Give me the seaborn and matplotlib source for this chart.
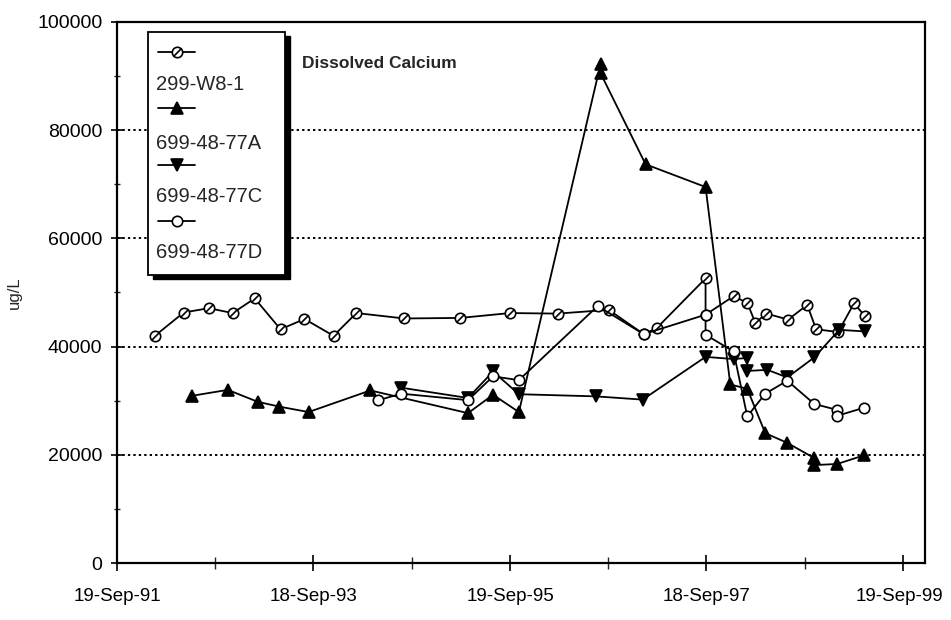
import numpy as np
import pandas as pd
import matplotlib
matplotlib.use("Agg")
import matplotlib.pyplot as plt
import matplotlib.dates as mdates
import matplotlib.transforms as mtransforms
from matplotlib.path import Path
from matplotlib.patches import Rectangle
from matplotlib.lines import Line2D
import seaborn as sns

# ---------------- data ----------------
w8_dates = ["1992-02-07", "1992-05-24", "1992-08-25", "1992-11-22", "1993-02-12",
            "1993-05-19", "1993-08-16", "1993-12-02", "1994-02-25", "1994-08-22",
            "1995-03-18", "1995-09-19", "1996-03-15", "1996-09-20", "1997-01-28",
            "1997-03-17", "1997-09-15", "1997-09-15", "1997-12-28", "1998-02-17",
            "1998-03-19", "1998-04-29", "1998-07-19", "1998-09-28", "1998-10-31",
            "1999-01-21", "1999-03-21", "1999-05-01"]
w8_vals = [42000, 46300, 47100, 46200, 48900, 43200, 45100, 42000, 46200, 45200,
           45300, 46200, 46100, 46800, 42300, 43400, 52600, 45900, 49300, 48100,
           44400, 46100, 45000, 47700, 43200, 42700, 48000, 45600]

a_dates = ["1992-06-23", "1992-11-04", "1993-02-23", "1993-05-15", "1993-08-31",
           "1994-04-18", "1995-04-16", "1995-07-18", "1995-10-22", "1996-08-21",
           "1996-08-21", "1997-02-04", "1997-09-15", "1997-12-16", "1998-02-17",
           "1998-04-25", "1998-07-16", "1998-10-24", "1998-10-24", "1999-01-17",
           "1999-04-27"]
a_vals = [30900, 32000, 29800, 28900, 27900, 31900, 27700, 31100, 27900, 92300,
          90500, 73700, 69500, 33000, 32200, 24000, 22200, 19400, 18100, 18300,
          19900]

c_dates = ["1994-08-11", "1995-04-16", "1995-07-18", "1995-10-22", "1996-08-03",
           "1997-01-24", "1997-09-15", "1997-12-28", "1998-02-17", "1998-02-17",
           "1998-05-03", "1998-07-16", "1998-10-24", "1999-01-25", "1999-05-01"]
c_vals = [32400, 30500, 35400, 31200, 30800, 30200, 38100, 37700, 37900, 35500,
          35700, 34300, 38000, 43100, 42800]

d_dates = ["1994-05-18", "1994-08-11", "1995-04-16", "1995-07-18", "1995-10-22",
           "1996-08-10", "1997-01-28", "1997-09-15", "1997-09-15", "1997-12-28",
           "1998-02-17", "1998-04-25", "1998-07-16", "1998-10-24", "1999-01-17",
           "1999-01-17", "1999-04-27"]
d_vals = [30100, 31300, 30100, 34500, 33800, 47500, 42300, 45900, 42200, 39100,
          27100, 31300, 33700, 29400, 28300, 27200, 28700]

series_names = ["299-W8-1", "699-48-77A", "699-48-77C", "699-48-77D"]
x_tick_labels = ["19-Sep-91", "18-Sep-93", "19-Sep-95", "18-Sep-97", "19-Sep-99"]
y_ticks = [0, 20000, 40000, 60000, 80000, 100000]
title_text = "Dissolved Calcium"
y_label = "ug/L"

# ---------------- style ----------------
sns.set_style("white")
plt.rcParams["font.family"] = ["Liberation Sans", "DejaVu Sans"]

W, H = 951, 620
fig = plt.figure(figsize=(W / 100, H / 100), dpi=100)
L, R, T, B = 117, 925, 22, 563
ax = fig.add_axes([L / W, 1 - B / H, (R - L) / W, (B - T) / H])

# hatched circle marker (circle with a slash)
circ = Path.unit_circle()
slash = Path([(-0.72, -0.72), (0.72, 0.72)], [Path.MOVETO, Path.LINETO])
hatched = Path.make_compound_path(circ, slash)

styles = {
    "299-W8-1": dict(marker=hatched, markersize=7.5, markerfacecolor="white"),
    "699-48-77A": dict(marker="^", markersize=9, markerfacecolor="black"),
    "699-48-77C": dict(marker="v", markersize=9, markerfacecolor="black"),
    "699-48-77D": dict(marker="o", markersize=7.5, markerfacecolor="white"),
}

all_dates = [w8_dates, a_dates, c_dates, d_dates]
all_vals = [w8_vals, a_vals, c_vals, d_vals]

for name, dts, vals in zip(series_names, all_dates, all_vals):
    df = pd.DataFrame({"date": pd.to_datetime(dts), "value": vals})
    st = styles[name]
    sns.lineplot(data=df, x="date", y="value", estimator=None, sort=False,
                 color="black", lw=1.3, marker=st["marker"],
                 markersize=st["markersize"],
                 markerfacecolor=st["markerfacecolor"],
                 markeredgecolor="black", markeredgewidth=1.2,
                 ax=ax, legend=False, zorder=3)

# ---------------- axes ----------------
major_num = mdates.date2num(pd.to_datetime(x_tick_labels, format="%d-%b-%y"))
minor_num = (major_num[:-1] + major_num[1:]) / 2
span = major_num[-1] - major_num[0]
ax.set_xlim(major_num[0], major_num[-1] + span * 22 / 786)
ax.set_xticks(major_num)
ax.set_xticklabels(x_tick_labels)
ax.set_xticks(minor_num, minor=True)

ax.set_ylim(0, 100000)
ax.set_yticks(y_ticks)
ax.set_yticklabels([str(v) for v in y_ticks])
ax.set_yticks([v + 10000 for v in y_ticks[:-1]], minor=True)

ax.set_xlabel("")
ax.set_ylabel("")

ax.yaxis.grid(True, which="major", linestyle=(0, (1.2, 1.6)), color="black", lw=1.4)
ax.xaxis.grid(False)
ax.set_axisbelow(True)

for s in ax.spines.values():
    s.set_visible(True)
    s.set_color("black")
    s.set_linewidth(1.6)

ax.tick_params(axis="x", which="major", direction="inout", length=12, width=1.2,
               pad=12, labelsize=13.5, colors="black")
ax.tick_params(axis="x", which="minor", direction="inout", length=8, width=1.0)
ax.tick_params(axis="y", which="major", direction="inout", length=9, width=1.2,
               pad=6, labelsize=14, colors="black")
ax.tick_params(axis="y", which="minor", direction="inout", length=5, width=1.0)
ax.tick_params(bottom=True, left=True, top=False, right=False)
ax.tick_params(which="minor", bottom=True, left=True, top=False, right=False)

# nudge the last x label slightly left so it stays inside the canvas
last_lbl = ax.get_xticklabels()[-1]
last_lbl.set_transform(last_lbl.get_transform() +
                       mtransforms.ScaledTranslation(-4 / 100, 0, fig.dpi_scale_trans))

# y label
fig.text(14 / W, 1 - 293 / H, y_label, rotation=90, ha="center", va="center",
         fontsize=12)

# title inside plot
fig.text(302 / W, 1 - 63 / H, title_text, ha="left", va="center",
         fontsize=12.5, fontweight="bold")

# ---------------- manual legend ----------------
def fx(px):
    return px / W

def fy(py):
    return 1 - py / H

bx0, bx1, by0, by1 = 148, 285, 32, 275
shadow = Rectangle((fx(bx0 + 5), fy(by1 + 4)), fx(bx1 - bx0), (by1 - by0) / H,
                   transform=fig.transFigure, facecolor="black",
                   edgecolor="black", zorder=10)
box = Rectangle((fx(bx0), fy(by1)), fx(bx1 - bx0), (by1 - by0) / H,
                transform=fig.transFigure, facecolor="white",
                edgecolor="black", lw=1.3, zorder=11)
fig.patches.extend([shadow, box])

handle_y = [52, 108, 165, 221]
text_y = [85, 143, 197, 253]
for name, hy, ty in zip(series_names, handle_y, text_y):
    st = styles[name]
    ln = Line2D([fx(158), fx(195)], [fy(hy), fy(hy)], transform=fig.transFigure,
                color="black", lw=1.3, zorder=12)
    mk = Line2D([fx(176.5)], [fy(hy)], transform=fig.transFigure,
                marker=st["marker"], markersize=st["markersize"],
                markerfacecolor=st["markerfacecolor"], markeredgecolor="black",
                markeredgewidth=1.2, linestyle="none", zorder=13)
    fig.lines.extend([ln, mk])
    fig.text(fx(156), fy(ty), name, ha="left", va="center", fontsize=14.5,
             zorder=14)

fig.savefig("out.png", dpi=100, facecolor="white")
